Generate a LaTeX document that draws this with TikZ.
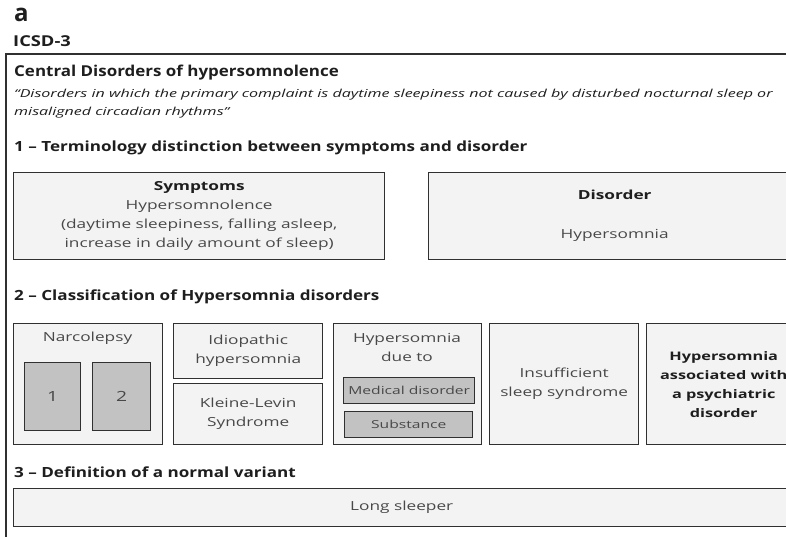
\documentclass[tikz,border=0pt]{standalone}
\usepackage{fontspec}
\setmainfont{Open Sans}
\newfontfamily\bodyfont[FakeStretch=1.38]{Open Sans}
\newfontfamily\headfont[FakeStretch=1.22]{Open Sans}
\newfontfamily\titlefont[FakeStretch=1.13]{Open Sans}
\newfontfamily\quotefont[FakeStretch=1.46]{Open Sans}
\newfontfamily\smallfont[FakeStretch=1.42]{Open Sans}
\usetikzlibrary{positioning}

\definecolor{boxfill}{HTML}{F3F3F3}
\definecolor{subfill}{HTML}{C2C2C2}
\definecolor{edge}{HTML}{303030}
\definecolor{body}{HTML}{484848}
\definecolor{ink}{HTML}{1E1E1E}

\begin{document}
\begin{tikzpicture}[x=1pt,y=-1pt,inner sep=0pt,
	font=\bodyfont\fontsize{12.5}{19}\selectfont]
	\tikzstyle{box}=[draw=edge,line width=1.4pt,fill=boxfill,text=body,align=center,anchor=north west]
	\tikzstyle{subbox}=[box,fill=subfill,font=\smallfont\fontsize{11}{13}\selectfont]
	\tikzstyle{head}=[anchor=west,text=ink,font=\headfont\fontsize{14}{16}\selectfont\bfseries]
	
	\useasboundingbox (0,0) rectangle (786,536);
	\clip (0,0) rectangle (786,536);
	\fill[white] (0,0) rectangle (786,536);
	
	\node[anchor=west,text=ink,font=\fontsize{24}{26}\selectfont\bfseries] (panel) at (14,15) {a};
	\node[head,font=\headfont\fontsize{15}{17}\selectfont\bfseries] (icsd) at (13,41) {ICSD-3};
	\node[anchor=north west,draw=edge,line width=1.6pt,minimum width=800,minimum height=495] (frame) at (5,53) {};
	
	\node[head,font=\titlefont\fontsize{15}{18}\selectfont\bfseries] (central) at (14,73) {Central Disorders of hypersomnolence};
	\node[anchor=north west,align=left,text=ink,font=\quotefont\fontsize{11}{18}\selectfont\itshape] (quote) at (14,89)
		{“Disorders in which the primary complaint is daytime sleepiness not caused by disturbed nocturnal sleep or\\misaligned circadian rhythms”};
	
	% 1 - terminology
	\node[head] (sec1) at (14,148) {1 – Terminology distinction between symptoms and disorder};
	\node[box,minimum width=371,minimum height=87] (sympt) at (13,172)
		{{\bfseries\color{ink}Symptoms}\\Hypersomnolence\\(daytime sleepiness, falling asleep,\\increase in daily amount of sleep)};
	\node[box,minimum width=372,minimum height=87] (disord) at (428,172)
		{{\bfseries\color{ink}Disorder}\\[20pt]Hypersomnia};
	
	% 2 - classification
	\node[head] (sec2) at (14,297) {2 – Classification of Hypersomnia disorders};
	\node[box,minimum width=149,minimum height=121] (narco) at (13,323) {};
	\node[text=body] (narcotitle) at (87.5,338) {Narcolepsy};
	\node[subbox,font=\bodyfont\fontsize{14}{15}\selectfont,minimum width=56,minimum height=68] (type1) at (24,362) {1};
	\node[subbox,font=\bodyfont\fontsize{14}{15}\selectfont,minimum width=58,minimum height=68] (type2) at (92,362) {2};
	
	\node[box,minimum width=149,minimum height=55] (idio) at (173,323) {Idiopathic\\hypersomnia};
	\node[box,minimum width=149,minimum height=61] (klein) at (173,383) {Kleine-Levin\\Syndrome};
	
	\node[box,minimum width=148,minimum height=121] (dueto) at (333,323) {};
	\node[text=body,align=center] (duetitle) at (407,347) {Hypersomnia\\due to};
	\node[subbox,minimum width=131,minimum height=26] (medic) at (343,377) {Medical disorder};
	\node[subbox,minimum width=128,minimum height=26] (subst) at (344,411) {Substance};
	
	\node[box,minimum width=149,minimum height=121] (insuff) at (489,323) {Insufficient\\sleep syndrome};
	\node[box,minimum width=154,minimum height=121,font=\bodyfont\fontsize{11.8}{19}\selectfont\bfseries,text=ink] (psych) at (646,323)
		{Hypersomnia\\associated with\\a psychiatric\\disorder};
	
	% 3 - normal variant
	\node[head] (sec3) at (14,472) {3 – Definition of a normal variant};
	\node[box,minimum width=776,minimum height=38] (longsl) at (13,488) {Long sleeper};
\end{tikzpicture}
\end{document}
